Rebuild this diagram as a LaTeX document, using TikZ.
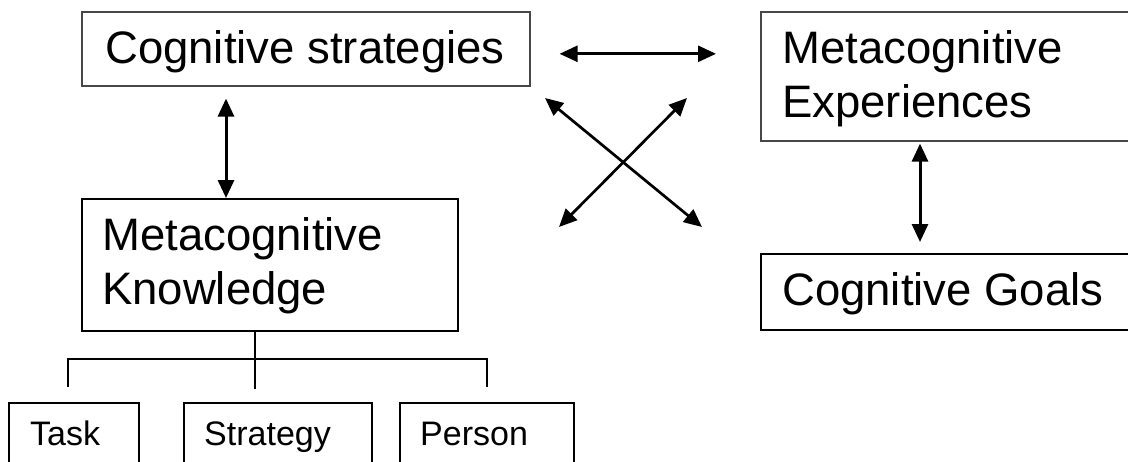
\documentclass[tikz,border=0pt]{standalone}
\usepackage{fontspec}
\setmainfont{Liberation Sans}
\usetikzlibrary{arrows.meta}
\begin{document}
\begin{tikzpicture}[x=1pt,y=-1pt,
  box/.style={draw=black, line width=2.2pt, inner sep=0pt, anchor=north west},
  softbox/.style={box, draw=black!72, line width=1.6pt},
  big/.style={font=\fontsize{45.5}{54}\selectfont, inner sep=0pt},
  small/.style={font=\fontsize{34}{40}\selectfont, inner sep=0pt},
  tip/.tip={Triangle[length=18pt,width=16pt]},
  link/.style={line width=2.7pt, tip-tip},
  vlink/.style={line width=3pt, tip-tip},
  tree/.style={line width=2.2pt}]
\useasboundingbox (0,0) rectangle (1128,461);
\clip (0,0) rectangle (1128,461);

% boxes
\node[softbox, minimum width=448pt, minimum height=74pt] (cs) at (81,11) {};
\node[softbox, minimum width=380pt, minimum height=129pt] (me) at (760,11) {};
\node[box, minimum width=376pt, minimum height=132pt] (mk) at (81,198) {};
\node[box, minimum width=380pt, minimum height=76pt] (cg) at (760,253) {};
\node[box, minimum width=130pt, minimum height=80pt] (task) at (8,402) {};
\node[box, minimum width=188pt, minimum height=80pt] (strat) at (183,402) {};
\node[box, minimum width=174pt, minimum height=80pt] (person) at (399,402) {};

% labels (two-line labels sit on the baseline of their last line)
\node[big, anchor=base] (cs-t) at (305,63) {Cognitive strategies};
\node[big, anchor=base west, align=left] (me-t) at (782,117) {Metacognitive\\Experiences};
\node[big, anchor=base west, align=left] (mk-t) at (102,304) {Metacognitive\\Knowledge};
\node[big, anchor=base west] (cg-t) at (782,305) {Cognitive Goals};
\node[small, anchor=base west] (task-t) at (30,445) {Task};
\node[small, anchor=base west] (strat-t) at (204,445) {Strategy};
\node[small, anchor=base west] (person-t) at (420,445) {Person};

% two-way links
\draw[vlink] ([xshift=145pt,yshift=-12pt]cs.south west) -- ([xshift=145pt]mk.north west);
\draw[vlink] ([xshift=160pt,yshift=-2pt]me.south west) -- ([xshift=160pt,yshift=11pt]cg.north west);
\draw[link] ([xshift=29pt,yshift=-5pt]cs.east) -- ([xshift=-44pt,yshift=22.5pt]me.west);

% crossing links
\coordinate (x1) at (545,98);
\coordinate (x2) at (702,227);
\coordinate (x3) at (687,98);
\coordinate (x4) at (559,227);
\draw[link] (x1) -- (x2);
\draw[link] (x3) -- (x4);

% knowledge tree
\draw[tree] ([xshift=174pt]mk.south west) -- ++(0,27) coordinate (hub);
\draw[tree] ([xshift=-6pt,yshift=15pt]task.north) |- (hub) -| ([yshift=15pt]person.north);
\draw[tree] (hub) -- ++(0,30);
\end{tikzpicture}
\end{document}
